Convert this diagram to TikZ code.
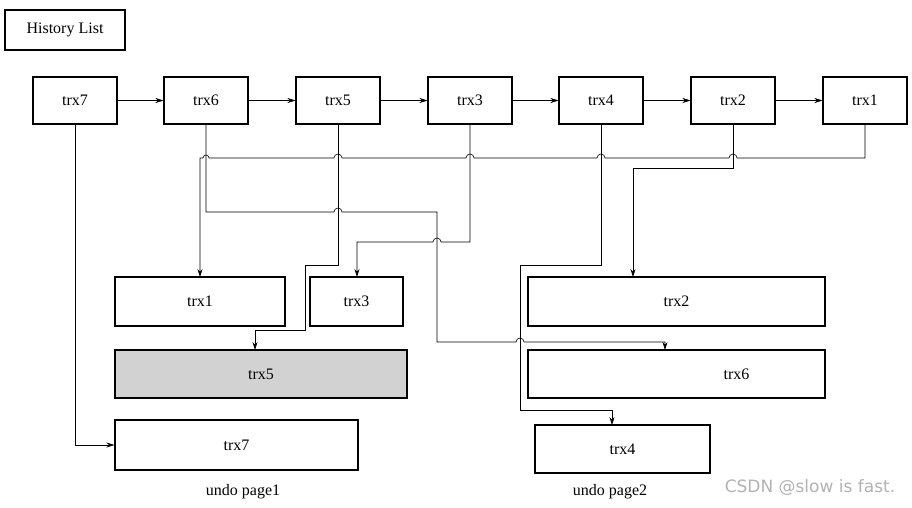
\documentclass[tikz,border=0pt]{standalone}
\usepackage{fontspec}
\setmainfont{Liberation Serif}
\usetikzlibrary{arrows.meta}
\begin{document}
\begin{tikzpicture}[x=1pt,y=-1pt,
  lbl/.style={font=\fontsize{16}{18}\selectfont},
  box/.style={draw,line width=1.1pt,inner sep=0pt,lbl},
  top/.style={box,minimum width=84pt,minimum height=47pt},
  con/.style={line width=0.6pt,-{Stealth[length=8pt,width=5pt]}}]
\useasboundingbox (0,0) rectangle (912,507);
\node[box,minimum width=120pt,minimum height=40pt] (hist) at (65,30) {History List};
\foreach \n/\x in {t7/75,t6/206,t5/338,t3/470,t4/601,t2/733,t1/865}{\node[top] (\n) at (\x,100.5) {};}
\node at (t7) [lbl] {trx7};\node at (t6) [lbl] {trx6};\node at (t5) [lbl] {trx5};
\node at (t3) [lbl] {trx3};\node at (t4) [lbl] {trx4};\node at (t2) [lbl] {trx2};\node at (t1) [lbl] {trx1};
\foreach \a/\b in {t7/t6,t6/t5,t5/t3,t3/t4,t4/t2,t2/t1}{\draw[con] (\a) -- (\b);}
% undo boxes
\node[box,minimum width=170pt,minimum height=49pt] (b1) at (200,301.5) {trx1};
\node[box,minimum width=93pt,minimum height=49pt] (b3) at (356.5,301.5) {trx3};
\node[box,minimum width=297pt,minimum height=49pt] (b2) at (676.5,301.5) {trx2};
\node[box,minimum width=292pt,minimum height=48pt,fill=gray!35] (b5) at (261,374) {trx5};
\node[box,minimum width=297pt,minimum height=48pt] (b6) at (676.5,374) {\hspace*{120pt}trx6};
\node[box,minimum width=243pt,minimum height=50pt] (b7) at (236.5,445) {trx7};
\node[box,minimum width=175pt,minimum height=48pt] (b4) at (622.5,449) {trx4};
\node[lbl] (u1) at (243,492) {undo page1};
\node[lbl] (u2) at (610,492) {undo page2};
\node[font=\fontspec{DejaVu Sans}\fontsize{17}{19}\selectfont,text=gray!60] (wm) at (810,488) {CSDN @slow is fast.};
% connectors
\draw[con] (t1.south) -- (865,158)
  -- (737,158) arc[start angle=0,end angle=-180,radius=4]
  -- (605,158) arc[start angle=0,end angle=-180,radius=4]
  -- (474,158) arc[start angle=0,end angle=-180,radius=4]
  -- (342,158) arc[start angle=0,end angle=-180,radius=4]
  -- (209,158) arc[start angle=0,end angle=-180,radius=3]
  -- (200,158) -- (200,277);
\draw[con] (t6.south) -- (206,212) -- (334,212) arc[start angle=180,end angle=360,radius=4]
  -- (437,212) -- (437,342) -- (516,342) arc[start angle=180,end angle=360,radius=4]
  -- (665,342) -- (665,350);
\draw[con] (t5.south) -- (338,265) -- (305,265) -- (305,330) -- (255,330) -- (255,350);
\draw[con] (t3.south) -- (470,242) -- (441,242) arc[start angle=0,end angle=-180,radius=4]
  -- (357,242) -- (357,277);
\draw[con] (t4.south) -- (601,265) -- (520,265) -- (520,410) -- (612,410) -- (612,425);
\draw[con] (t2.south) -- (733,168) -- (633,168) -- (633,277);
\draw[con] (t7.south) -- (75,445) -- (b7.west);
\end{tikzpicture}
\end{document}
